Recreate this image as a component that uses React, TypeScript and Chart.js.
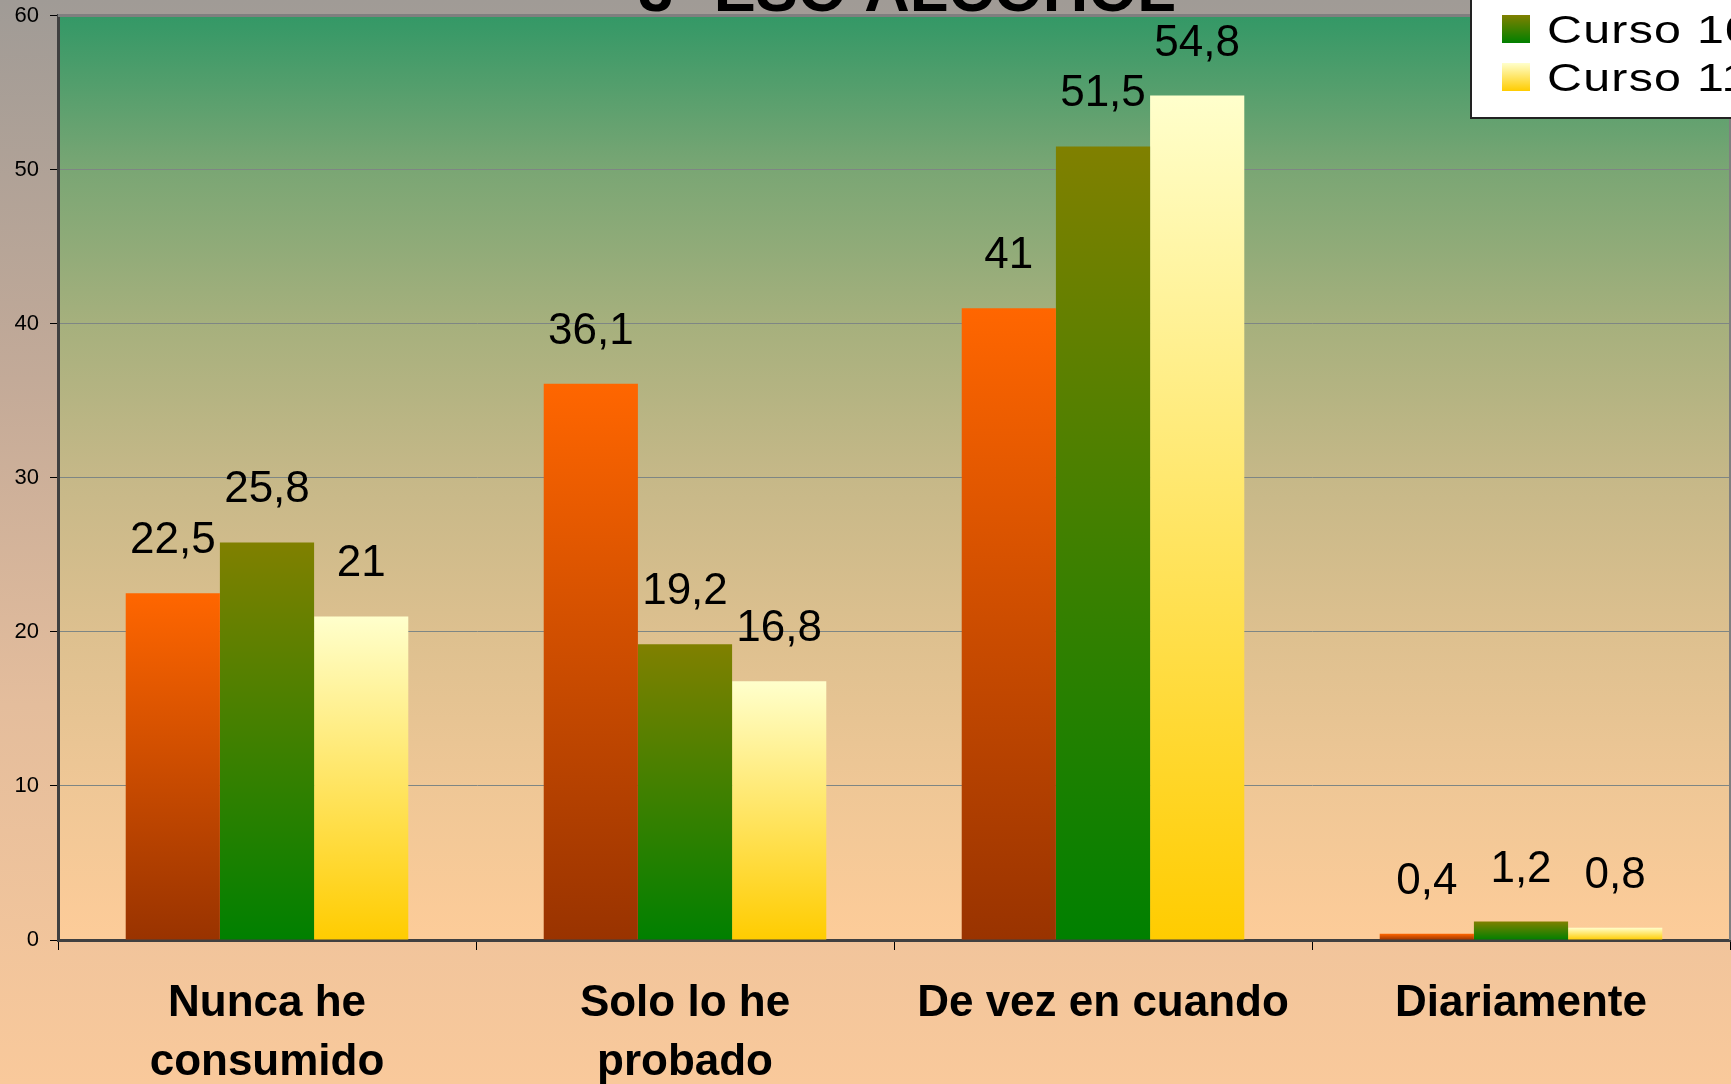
import React, { useEffect, useRef } from "react";
import { Chart, registerables } from "chart.js";

Chart.register(...registerables);

const chartTitle = "3º ESO ALCOHOL";
const categories: (string | string[])[] = [
  ["Nunca he", "consumido"],
  ["Solo lo he", "probado"],
  "De vez en cuando",
  "Diariamente",
];
const seriesNames = ["Curso 09-10", "Curso 10-11", "Curso 11-12"];
const serie1 = [22.5, 36.1, 41, 0.4];
const serie2 = [25.8, 19.2, 51.5, 1.2];
const serie3 = [21, 16.8, 54.8, 0.8];
const yMin = 0;
const yMax = 60;
const yStep = 10;

const seriesTop = ["#FF6600", "#808000", "#FFFFCC"];
const seriesBottom = ["#993300", "#008000", "#FFCC00"];

const FONT = "'Liberation Sans', Arial, sans-serif";

function barGradient(i: number) {
  return (ctx: any) => {
    const chart = ctx.chart;
    const scales = chart.scales;
    if (!chart.chartArea || ctx.type !== "data" || !scales || !scales.y) return seriesTop[i];
    const y0 = scales.y.getPixelForValue(0);
    const y1 = scales.y.getPixelForValue(ctx.raw);
    if (!isFinite(y0) || !isFinite(y1) || Math.abs(y0 - y1) < 0.5) return seriesTop[i];
    const g = chart.ctx.createLinearGradient(0, y1, 0, y0);
    g.addColorStop(0, seriesTop[i]);
    g.addColorStop(1, seriesBottom[i]);
    return g;
  };
}

const backgroundPlugin = {
  id: "bgPlugin",
  beforeDraw(chart: any) {
    const { ctx, width, height, chartArea } = chart;
    ctx.save();
    const g = ctx.createLinearGradient(0, 0, 0, height);
    g.addColorStop(0, "#A09B96");
    g.addColorStop(0.35, "#C3AA98");
    g.addColorStop(0.65, "#E4BD9C");
    g.addColorStop(1, "#F9C99B");
    ctx.fillStyle = g;
    ctx.fillRect(0, 0, width, height);
    if (chartArea) {
      const { left, top, right, bottom } = chartArea;
      const pg = ctx.createLinearGradient(0, top, 0, bottom);
      pg.addColorStop(0, "#339866");
      pg.addColorStop(1 / 6, "#7AA674");
      pg.addColorStop(2 / 6, "#A6B07D");
      pg.addColorStop(3 / 6, "#C6B888");
      pg.addColorStop(4 / 6, "#DDC08F");
      pg.addColorStop(5 / 6, "#EFC796");
      pg.addColorStop(1, "#FDCC99");
      ctx.fillStyle = pg;
      ctx.fillRect(left, top, right - left, bottom - top);
    }
    ctx.restore();
  },
  afterDraw(chart: any) {
    const { ctx, chartArea } = chart;
    ctx.save();
    // plot area top/right border
    ctx.strokeStyle = "#7F7F7F";
    ctx.lineWidth = 3;
    ctx.beginPath();
    ctx.moveTo(chartArea.left, chartArea.top);
    ctx.lineTo(chartArea.right, chartArea.top);
    ctx.stroke();
    ctx.lineWidth = 2;
    ctx.beginPath();
    ctx.moveTo(chartArea.right, chartArea.top);
    ctx.lineTo(chartArea.right, chartArea.bottom);
    ctx.stroke();

    // data labels
    ctx.fillStyle = "#000";
    ctx.font = `44px ${FONT}`;
    ctx.textAlign = "center";
    ctx.textBaseline = "alphabetic";
    chart.data.datasets.forEach((ds: any, di: number) => {
      const meta = chart.getDatasetMeta(di);
      meta.data.forEach((el: any, idx: number) => {
        const v = ds.data[idx];
        const txt = String(v).replace(".", ",");
        ctx.fillText(txt, el.x, el.y - 40);
      });
    });

    // title (mostly cut off at the top)
    ctx.font = `bold 63px ${FONT}`;
    ctx.textAlign = "center";
    ctx.fillText(chartTitle, 907, 11);

    // legend box
    const boxLeft = 1471;
    const boxTop = -45;
    const boxBottom = 118;
    ctx.fillStyle = "#FFFFFF";
    ctx.fillRect(boxLeft, boxTop, 400, boxBottom - boxTop);
    ctx.strokeStyle = "#222";
    ctx.lineWidth = 2;
    ctx.strokeRect(boxLeft, boxTop, 400, boxBottom - boxTop);
    const sqX = 1502;
    const sqSize = 28;
    const firstSqTop = 15 - 48;
    chart.data.datasets.forEach((ds: any, di: number) => {
      const t = firstSqTop + di * 48;
      const sg = ctx.createLinearGradient(0, t, 0, t + sqSize);
      sg.addColorStop(0, seriesTop[di]);
      sg.addColorStop(1, seriesBottom[di]);
      ctx.fillStyle = sg;
      ctx.fillRect(sqX, t, sqSize, sqSize);
      ctx.fillStyle = "#000";
      ctx.font = `39px ${FONT}`;
      ctx.textAlign = "left";
      ctx.save();
      ctx.translate(1547, t + sqSize);
      ctx.scale(1.24, 1);
      (ctx as any).letterSpacing = "1px";
      ctx.fillText(ds.label, 0, 0);
      ctx.restore();
    });
    ctx.restore();
  },
};

export default function App() {
  const ref = useRef<HTMLCanvasElement | null>(null);
  useEffect(() => {
    if (!ref.current) return;
    const chart = new Chart(ref.current, {
      type: "bar",
      data: {
        labels: categories as any,
        datasets: [serie1, serie2, serie3].map((d, i) => ({
          label: seriesNames[i],
          data: d,
          backgroundColor: barGradient(i) as any,
          borderWidth: 0,
          categoryPercentage: 0.676,
          barPercentage: 1,
        })),
      },
      options: {
        responsive: false,
        animation: false,
        devicePixelRatio: 1,
        layout: { padding: { top: 15.5, right: 1, left: 0, bottom: 0 } },
        plugins: {
          legend: { display: false },
          title: { display: false },
          tooltip: { enabled: false },
        },
        scales: {
          x: {
            afterFit: (s: any) => {
              s.height = 144;
              s.paddingLeft = 0;
              s.paddingRight = 0;
            },
            grid: {
              display: true,
              drawOnChartArea: false,
              drawTicks: true,
              tickLength: 10,
              tickColor: "#000",
              tickWidth: 1,
              offset: true,
            },
            border: { display: true, color: "#404040", width: 3 },
            ticks: {
              color: "#000",
              padding: 25,
              maxRotation: 0,
              autoSkip: false,
              font: { family: FONT, size: 44, weight: "bold", lineHeight: 1.33 },
            },
          },
          y: {
            min: yMin,
            max: yMax,
            afterFit: (s: any) => {
              s.width = 58;
              s.paddingTop = 0;
              s.paddingBottom = 0;
            },
            grid: {
              color: "#7E8684",
              lineWidth: 1,
              tickLength: 8,
              tickColor: "#000",
              drawTicks: true,
            },
            border: { display: true, color: "#404040", width: 3 },
            ticks: {
              stepSize: yStep,
              color: "#000",
              padding: 11,
              font: { family: FONT, size: 22 },
            },
          },
        },
      },
      plugins: [backgroundPlugin],
    });
    return () => chart.destroy();
  }, []);
  return (
    <div style={{ position: "fixed", left: 0, top: 0, width: 1731, height: 1084 }}>
      <canvas ref={ref} width={1731} height={1084} style={{ display: "block", width: 1731, height: 1084 }} />
    </div>
  );
}
